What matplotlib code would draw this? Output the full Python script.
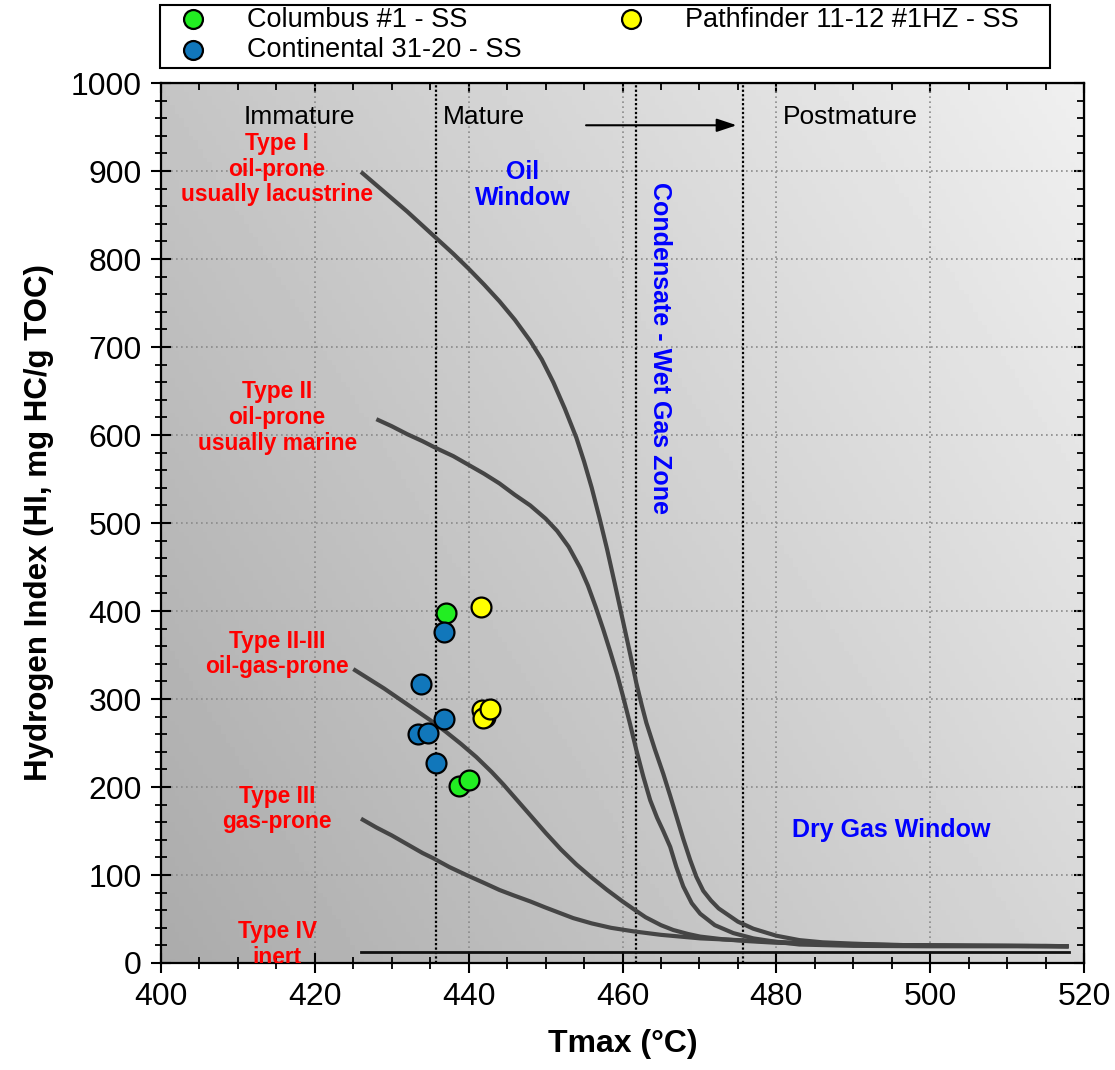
"""HI vs Tmax kerogen type plot with sample points"""

import numpy as np
import matplotlib
matplotlib.use("Agg")
import matplotlib.pyplot as plt
from matplotlib.patches import Rectangle
from matplotlib.ticker import MultipleLocator

plt.rcParams['font.family'] = ['Liberation Sans', 'DejaVu Sans']

# sample data (Tmax, HI)
columbus_tmax = [437.0, 438.7, 440.0]
columbus_hi = [398, 201, 208]
continental_tmax = [436.8, 433.8, 436.8, 433.4, 434.7, 435.8]
continental_hi = [376, 317, 277, 260, 261, 227]
pathfinder_tmax = [441.6, 441.7, 442.1, 441.9, 442.8]
pathfinder_hi = [404, 287, 280, 278, 289]

# kerogen type curves
type1_tmax = [426, 428, 430, 432, 434, 436, 438, 440, 442, 444, 446, 448, 449.5, 451,
              452.5, 454, 455, 456, 457, 458, 459, 460, 461, 461.8, 462.5,
              463.1, 464.2, 465.3, 466.2, 467, 467.9, 468.8, 469.6, 470.5, 471.5, 472.5,
              473.5, 475, 477, 480, 483, 486, 490, 495, 500, 505, 510, 515, 518]
type1_hi = [899, 884, 869, 854, 838, 822, 806, 789, 771, 752, 731, 707, 686, 660,
            630, 597, 570, 540, 506, 470, 431, 391, 351, 318, 293,
            273, 243, 215, 190, 167, 141, 117, 98, 82, 71, 62,
            56, 47, 39, 31, 26, 23.5, 22, 20.5, 20, 19.5, 19.5, 19.5, 19]
type2_tmax = [428, 430, 432, 434, 435.8, 438, 440, 442, 444, 446, 448, 450, 451.5, 453,
              454.5, 455.5, 456.5, 457.5, 458.4, 459.3, 460.1, 461, 461.8, 462.7, 463.6,
              464.5, 465.3, 466.2, 467, 467.9, 469, 470.1, 472, 474.4, 477, 480, 483,
              490, 500, 518]
type2_hi = [618, 610, 601, 593, 585, 576, 566, 556, 545, 532, 520, 505, 491, 473,
            449, 429, 405, 379, 354, 328, 302, 271, 242, 212, 185,
            165, 150, 132, 109, 87, 68, 56, 43, 34, 28, 24, 21,
            19.5, 19, 19]
type23_tmax = [425, 427, 429, 431, 433, 435, 437, 439, 441, 443, 444.5, 446, 448,
               450, 452, 454, 456, 458, 460, 461.4, 463, 465, 466.6, 468.5, 470.1,
               473, 476, 480, 485, 490, 500, 510, 518]
type23_hi = [334, 323, 312, 300, 288, 276, 263, 249, 234, 217, 203, 188, 168,
             148, 129, 112, 97, 83, 70, 61.5, 52, 43, 37.5, 33, 30,
             27, 25, 23, 22, 21, 20, 19.5, 19]
type3_tmax = [426, 428, 430, 432, 434, 435.4, 437.5, 439.7, 442, 444, 445.8, 448, 450,
              453.6, 456, 458.5, 461.4, 465, 470.1, 475, 480, 485, 490, 500, 510, 518]
type3_hi = [164, 154, 145, 135, 125, 119, 109, 100, 91, 83, 77, 70, 63,
            51, 45, 40, 36, 32, 28, 26, 24, 22, 21, 20, 19.5, 19]
type4_tmax = [426, 518]
type4_hi = [12, 12]

zone_lines = [435.8, 461.8, 475.7]

fig = plt.figure(figsize=(11.15, 10.70), dpi=100)
ax = fig.add_axes([0.1444, 0.1, 0.8278, 0.8224])

# gradient background
gx, gy = np.meshgrid(np.linspace(0, 1, 200), np.linspace(0, 1, 200))
shade = 0.67 + 0.17 * gx + 0.10 * gy
ax.imshow(shade, cmap='gray', vmin=0, vmax=1, origin='lower', aspect='auto',
          extent=[400, 520, 0, 1000], zorder=0)

ax.set_xlim(400, 520)
ax.set_ylim(0, 1000)
ax.xaxis.set_major_locator(MultipleLocator(20))
ax.xaxis.set_minor_locator(MultipleLocator(5))
ax.yaxis.set_major_locator(MultipleLocator(100))
ax.yaxis.set_minor_locator(MultipleLocator(20))
ax.grid(True, which='major', color='#8a8a8a', linestyle=(0, (1, 2)), linewidth=1.2, zorder=1)
ax.tick_params(which='major', direction='inout', length=14, width=1.5, labelsize=23, pad=7)
ax.tick_params(which='minor', direction='inout', length=9, width=1.3)
for sp in ax.spines.values():
    sp.set_linewidth(1.6)

# inward ticks on top and right
top = ax.secondary_xaxis('top')
top.xaxis.set_major_locator(MultipleLocator(20))
top.xaxis.set_minor_locator(MultipleLocator(5))
top.tick_params(which='major', direction='in', length=7, width=1.5, labeltop=False)
top.tick_params(which='minor', direction='in', length=5, width=1.3)
right = ax.secondary_yaxis('right')
right.yaxis.set_major_locator(MultipleLocator(100))
right.yaxis.set_minor_locator(MultipleLocator(20))
right.tick_params(which='major', direction='in', length=7, width=1.5, labelright=False)
right.tick_params(which='minor', direction='in', length=5, width=1.3)

for xv in zone_lines:
    ax.axvline(xv, color='black', linestyle=(0, (1, 1)), linewidth=1.6, zorder=2)

curve_color = '#454545'
for xs, ys in [(type1_tmax, type1_hi), (type2_tmax, type2_hi), (type23_tmax, type23_hi),
               (type3_tmax, type3_hi)]:
    ax.plot(xs, ys, color=curve_color, linewidth=3, solid_joinstyle='round',
            solid_capstyle='butt', zorder=3)
ax.plot(type4_tmax, type4_hi, color='#111111', linewidth=2, zorder=3)

# labels inside plot
ax.text(418, 961, 'Immature', fontsize=19, ha='center', va='center', zorder=4)
ax.text(442, 961, 'Mature', fontsize=19, ha='center', va='center', zorder=4)
ax.text(489.6, 961, 'Postmature', fontsize=19, ha='center', va='center', zorder=4)
ax.annotate('', xy=(475.2, 952), xytext=(454.9, 952),
            arrowprops=dict(arrowstyle='-|>,head_length=1.2,head_width=0.4', color='black', lw=1.5))

red_kw = dict(color='red', fontsize=16.4, fontweight='bold', ha='center', va='center',
              linespacing=1.15, zorder=4)
ax.text(415.1, 902, 'Type I\noil-prone\nusually lacustrine', **red_kw)
ax.text(415.1, 620, 'Type II\noil-prone\nusually marine', **red_kw)
ax.text(415.1, 351, 'Type II-III\noil-gas-prone', **red_kw)
ax.text(415.1, 175, 'Type III\ngas-prone', **red_kw)
ax.text(415.1, 21, 'Type IV\ninert', clip_on=True, **red_kw)

blue_kw = dict(color='blue', fontsize=18, fontweight='bold', ha='center', va='center', zorder=4)
ax.text(447, 884, 'Oil\nWindow', linespacing=1.1, **blue_kw)
ax.text(464.9, 699, 'Condensate - Wet Gas Zone', rotation=-90, **blue_kw)
ax.text(494.9, 151, 'Dry Gas Window', **blue_kw)

mk = dict(s=205, edgecolors='black', linewidths=1.6, zorder=5)
ax.scatter(columbus_tmax, columbus_hi, color='#22ee22', label='Columbus #1 - SS', **mk)
ax.scatter(continental_tmax, continental_hi, color='#1177bb', label='Continental 31-20 - SS', **mk)
ax.scatter(pathfinder_tmax, pathfinder_hi, color='#ffff00', label='Pathfinder 11-12 #1HZ - SS', **mk)

ax.set_xlabel('Tmax (°C)', fontsize=23, fontweight='bold', labelpad=12)
ax.set_ylabel('Hydrogen Index (HI, mg HC/g TOC)', fontsize=22.5, fontweight='bold', labelpad=12)

# legend without its own frame, box drawn separately so it can be wider
fig.legend(loc='lower left', bbox_to_anchor=(0.1435, 0.9364, 0.775, 0.059), mode='expand',
           ncol=2, fontsize=19.5, frameon=False,
           borderpad=0.2, labelspacing=0.15, handletextpad=1.0, borderaxespad=0,
           markerscale=0.95)
fig.patches.append(Rectangle((0.1435, 0.9364), 0.798, 0.059, transform=fig.transFigure,
                             fill=False, edgecolor='black', linewidth=1.5))

fig.savefig('out.png', dpi=100)
